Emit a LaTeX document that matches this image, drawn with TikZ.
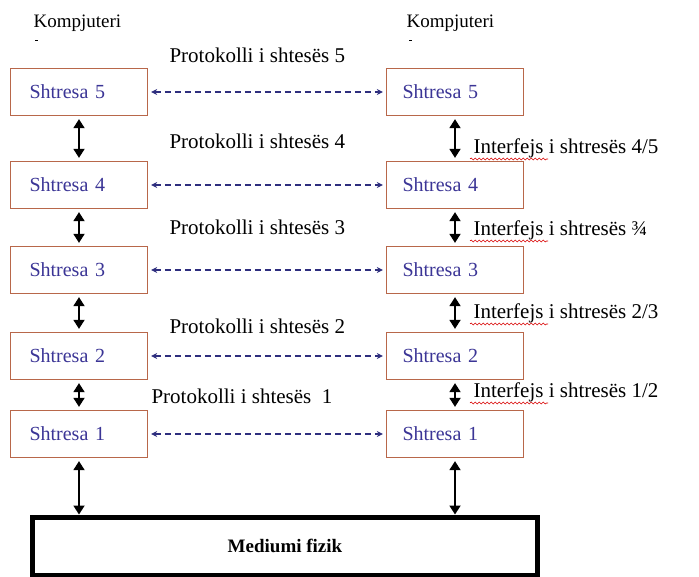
\documentclass[tikz,border=0pt]{standalone}
\usepackage{fontspec}
\setmainfont{Liberation Serif}
\usetikzlibrary{arrows.meta,decorations.pathmorphing}
\definecolor{boxedge}{HTML}{B8674A}
\definecolor{layertext}{HTML}{3B3596}
\definecolor{peerline}{HTML}{2E2E7E}
\begin{document}
\begin{tikzpicture}[x=1pt,y=-1pt,
  every node/.style={font=\fontsize{21}{25}\selectfont},
  hostlabel/.style={anchor=base west,font=\fontsize{19}{23}\selectfont},
  layerbox/.style={draw=boxedge,line width=1.3pt,minimum height=47pt,
    text width=119pt,inner xsep=9pt,align=left,text=layertext,
    font=\fontsize{20}{24}\selectfont},
  ifarrow/.style={{Triangle[length=9pt,width=11pt]}-{Triangle[length=9pt,width=11pt]},line width=1.8pt,shorten <=3pt,shorten >=3pt},
  peer/.style={{Stealth[length=6pt,width=6pt]}-{Stealth[length=6pt,width=6pt]},peerline,line width=1.4pt,dash pattern=on 6pt off 4pt,shorten <=3pt,shorten >=3pt},
  plabel/.style={anchor=base west,text=black},
  spell/.style={draw=red!85!black,line width=0.6pt,decorate,decoration={snake,amplitude=1pt,segment length=4pt}}]
\useasboundingbox (0,0) rectangle (699,576);
\fill[white] (0,0) rectangle (699,576);

% host headings
\node[hostlabel] (hostA) at (30,27) {Kompjuteri};
\node[hostlabel] (hostB) at (403,27) {Kompjuteri};
\draw[line width=0.8pt] (35,40) -- (38,40);
\draw[line width=0.8pt] (409,40) -- (412,40);

% layer stacks
\foreach \n/\y in {5/92,4/185,3/270,2/356,1/434}{
  \node[layerbox] (L\n) at (79,\y) {\hspace*{10pt}Shtresa \n};
  \node[layerbox] (R\n) at (455,\y) {\hspace*{7pt}Shtresa \n};
}

% physical medium
\node[draw,line width=5pt,minimum width=505pt,minimum height=58pt,
  font=\fontsize{19}{23}\selectfont\bfseries] (med) at (285,546) {Mediumi fizik};

% interfaces between adjacent layers
\foreach \a/\b in {5/4,4/3,3/2,2/1}{
  \draw[ifarrow] (L\a.south) -- (L\b.north);
  \draw[ifarrow] (R\a.south) -- (R\b.north);
}
\draw[ifarrow,shorten >=0pt] (L1.south) -- (L1.south |- med.north);
\draw[ifarrow,shorten >=0pt] (R1.south) -- (R1.south |- med.north);

% peer protocols
\foreach \n in {5,4,3,2,1}{
  \draw[peer] (L\n.east) -- (R\n.west);
}
\node[plabel] (p5) at (166,62) {Protokolli i shtesës 5};
\node[plabel] (p4) at (166,148) {Protokolli i shtesës 4};
\node[plabel] (p3) at (166,234) {Protokolli i shtesës 3};
\node[plabel] (p2) at (166,333) {Protokolli i shtesës 2};
\node[plabel] (p1) at (148,403) {Protokolli i shtesës\ \ 1};

% interface labels
\node[plabel] (i45) at (470,153) {Interfejs i shtresës 4/5};
\node[plabel] (i34) at (470,235) {Interfejs i shtresës ¾};
\node[plabel] (i23) at (470,318) {Interfejs i shtresës 2/3};
\node[plabel] (i12) at (470,397) {Interfejs i shtresës 1/2};
\foreach \y in {159,241,324,403}{
  \draw[spell] (470,\y) -- (548,\y);
}
\end{tikzpicture}
\end{document}
